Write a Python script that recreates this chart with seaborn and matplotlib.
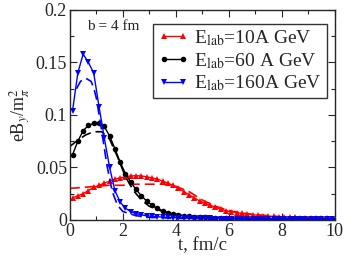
import numpy as np
import pandas as pd
import matplotlib
matplotlib.use("Agg")
import matplotlib.pyplot as plt
from matplotlib.ticker import MultipleLocator, FuncFormatter
from matplotlib.lines import Line2D
import seaborn as sns

# ---- data ----
t_pts = [0.1, 0.3, 0.5, 0.7, 0.9, 1.1, 1.3, 1.5, 1.7, 1.9,
         2.1, 2.3, 2.5, 2.7, 2.9, 3.1, 3.3, 3.5, 3.7, 3.9,
         4.1, 4.3, 4.5, 4.7, 4.9, 5.1, 5.3, 5.5, 5.7, 5.9,
         6.1, 6.3, 6.5, 6.7, 6.9, 7.1, 7.3, 7.5, 7.7, 7.9,
         8.1, 8.3, 8.5, 8.7, 8.9, 9.1, 9.3, 9.5, 9.7, 9.9]

red_solid = [0.021, 0.023, 0.025, 0.028, 0.031, 0.033, 0.035, 0.037, 0.039, 0.040,
             0.041, 0.042, 0.042, 0.042, 0.041, 0.040, 0.039, 0.037, 0.035, 0.033,
             0.030, 0.027, 0.024, 0.021, 0.018, 0.016, 0.014, 0.012, 0.010, 0.0088,
             0.0078, 0.0069, 0.0062, 0.0056, 0.0050, 0.0045, 0.0041, 0.0037, 0.0033, 0.0030,
             0.0027, 0.0025, 0.0023, 0.0021, 0.0019, 0.0017, 0.0016, 0.0015, 0.0014, 0.0013]

black_solid = [0.062, 0.075, 0.085, 0.090, 0.092, 0.092, 0.089, 0.080, 0.068, 0.055,
               0.044, 0.036, 0.029, 0.023, 0.018, 0.014, 0.011, 0.0088, 0.0070, 0.0057,
               0.0047, 0.0040, 0.0034, 0.0030, 0.0026, 0.0023, 0.0021, 0.0019, 0.0017, 0.0016,
               0.0015, 0.0014, 0.0013, 0.0013, 0.0012, 0.0012, 0.0011, 0.0011, 0.0010, 0.0010,
               0.0010, 0.0009, 0.0009, 0.0009, 0.0008, 0.0008, 0.0008, 0.0008, 0.0007, 0.0007]

blue_solid = [0.104, 0.140, 0.158, 0.150, 0.140, 0.108, 0.078, 0.050, 0.028, 0.017,
              0.011, 0.008, 0.006, 0.0048, 0.0040, 0.0034, 0.0030, 0.0027, 0.0024, 0.0022,
              0.0020, 0.0019, 0.0018, 0.0017, 0.0016, 0.0015, 0.0014, 0.0013, 0.0013, 0.0012,
              0.0012, 0.0011, 0.0011, 0.0010, 0.0010, 0.0010, 0.0009, 0.0009, 0.0009, 0.0008,
              0.0008, 0.0008, 0.0008, 0.0007, 0.0007, 0.0007, 0.0007, 0.0006, 0.0006, 0.0006]

t_red_dash = [0, 0.5, 1, 1.5, 2, 2.5, 3, 3.5, 4, 4.5, 5, 5.5, 6, 6.5, 7, 8, 9, 10]
red_dash = [0.030, 0.031, 0.032, 0.033, 0.033, 0.034, 0.034, 0.034, 0.032, 0.027,
            0.019, 0.013, 0.009, 0.0065, 0.005, 0.003, 0.002, 0.0013]

t_black_dash = [0, 0.3, 0.6, 0.9, 1.2, 1.5, 1.8, 2.1, 2.4, 2.7, 3.0, 3.5, 4, 5, 6, 8, 10]
black_dash = [0.070, 0.076, 0.081, 0.084, 0.084, 0.077, 0.060, 0.041, 0.028, 0.019,
              0.013, 0.008, 0.005, 0.0025, 0.0015, 0.001, 0.0007]

t_blue_dash = [0.25, 0.4, 0.6, 0.8, 0.9, 1.0, 1.2, 1.4, 1.6, 1.8, 2.0, 2.5, 3, 4, 6, 8, 10]
blue_dash = [0.125, 0.132, 0.135, 0.132, 0.126, 0.116, 0.085, 0.052, 0.027, 0.014,
             0.008, 0.004, 0.0025, 0.0015, 0.001, 0.0007, 0.0005]

labels = [r"E$_{\rm lab}$=10A GeV", r"E$_{\rm lab}$=60 A GeV", r"E$_{\rm lab}$=160A GeV"]
colors = ["#ff0000", "#000000", "#0000ff"]
markers = ["^", "o", "v"]

# ---- style ----
sns.set_style("ticks")
plt.rcParams["font.family"] = ["Liberation Serif", "DejaVu Serif"]
plt.rcParams["mathtext.fontset"] = "stix"

fig = plt.figure(figsize=(3.46, 2.56), dpi=100)
ax = fig.add_axes([0.202, 0.141, 0.765, 0.820])

solids = [red_solid, black_solid, blue_solid]
dashes = [(t_red_dash, red_dash), (t_black_dash, black_dash), (t_blue_dash, blue_dash)]

for i in range(3):
    df = pd.DataFrame({"t": t_pts, "B": solids[i]})
    sns.lineplot(data=df, x="t", y="B", ax=ax, color=colors[i], marker=markers[i],
                 markersize=4, markeredgewidth=0, linewidth=1.0, sort=False,
                 estimator=None, legend=False)
    td, bd = dashes[i]
    dfd = pd.DataFrame({"t": td, "B": bd})
    sns.lineplot(data=dfd, x="t", y="B", ax=ax, color=colors[i], linewidth=1.2,
                 linestyle=(0, (6, 3)), sort=False, estimator=None, legend=False)

ax.set_xlim(0, 10)
ax.set_ylim(0, 0.2)
ax.xaxis.set_major_locator(MultipleLocator(2))
ax.xaxis.set_minor_locator(MultipleLocator(1))
ax.yaxis.set_major_locator(MultipleLocator(0.05))
ax.yaxis.set_minor_locator(MultipleLocator(0.025))
ax.yaxis.set_major_formatter(FuncFormatter(lambda v, _: f"{v:g}"))
ax.tick_params(which="both", direction="in", top=True, right=True, labelsize=13, pad=2)
ax.tick_params(which="major", length=5, width=0.8)
ax.tick_params(which="minor", length=3, width=0.8)
for s in ax.spines.values():
    s.set_linewidth(1.0)

ax.set_xlabel("t, fm/c", fontsize=13.5, labelpad=-2)
ax.set_ylabel(r"eB$_y$/m$_\pi^2$", fontsize=13, labelpad=2)
ax.text(0.065, 0.95, "b = 4 fm", transform=ax.transAxes, fontsize=11, va="top", ha="left")

handles = [Line2D([0], [0], color=colors[i], marker=markers[i], markersize=4,
                  markeredgewidth=0, linewidth=1.0) for i in range(3)]
leg = ax.legend(handles, labels, loc="upper right", bbox_to_anchor=(0.97, 0.935),
                numpoints=2, handlelength=1.6, handletextpad=0.25, fontsize=14,
                fancybox=False, frameon=True, borderpad=0.25, labelspacing=0.15,
                borderaxespad=0.0, handleheight=0.8)
leg.get_frame().set_edgecolor("black")
leg.get_frame().set_linewidth(1.0)

fig.savefig("out.png", dpi=100)
